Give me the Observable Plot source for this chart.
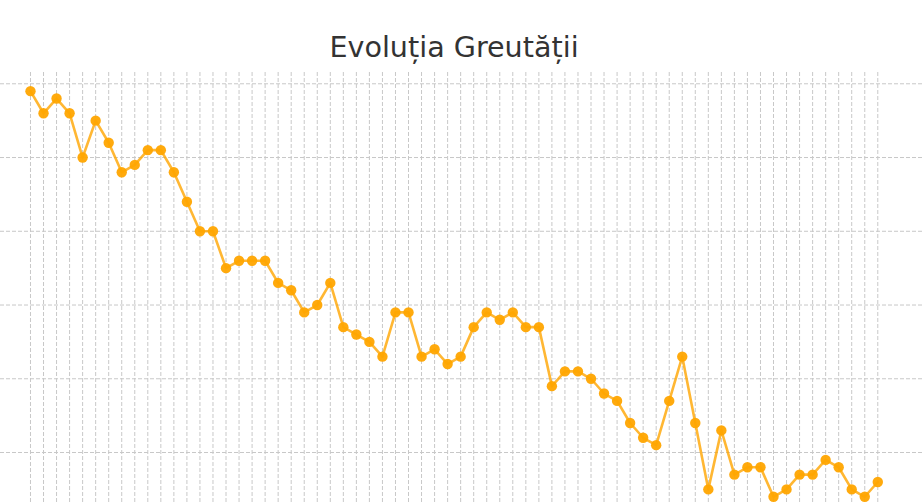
<!DOCTYPE html>
<html>
<head>
<meta charset="utf-8">
<script src="https://cdn.jsdelivr.net/npm/d3@7"></script>
<script src="https://cdn.jsdelivr.net/npm/@observablehq/plot@0.6"></script>
<style>
  html, body { margin: 0; padding: 0; background: #fff; }
  #wrap { position: relative; width: 922px; height: 504px; overflow: hidden; }
  #title { position: absolute; left: 0; top: 0; width: 908px; height: 72px; text-align: center;
           font-family: "DejaVu Sans", sans-serif; font-size: 28.6px; color: #333; line-height: 28px; padding-top: 33px; box-sizing: border-box; }
  #chart { position: absolute; left: 0; top: 72px; }
</style>
</head>
<body>
<div id="wrap">
  <div id="title">Evoluția Greutății</div>
  <div id="chart"></div>
</div>
<script>
const weights = [85.9, 85.6, 85.8, 85.6, 85.0, 85.5, 85.2, 84.8, 84.9, 85.1,
                 85.1, 84.8, 84.4, 84.0, 84.0, 83.5, 83.6, 83.6, 83.6, 83.3,
                 83.2, 82.9, 83.0, 83.3, 82.7, 82.6, 82.5, 82.3, 82.9, 82.9,
                 82.3, 82.4, 82.2, 82.3, 82.7, 82.9, 82.8, 82.9, 82.7, 82.7,
                 81.9, 82.1, 82.1, 82.0, 81.8, 81.7, 81.4, 81.2, 81.1, 81.7,
                 82.3, 81.4, 80.5, 81.3, 80.7, 80.8, 80.8, 80.4, 80.5, 80.7,
                 80.7, 80.9, 80.8, 80.5, 80.4, 80.6];
const days = weights.map((_, i) => i + 1);
const yTicks = [81, 82, 83, 84, 85, 86];

const data = days.map((d, i) => ({day: d, weight: weights[i]}));

const chart = Plot.plot({
  width: 922,
  height: 432,
  marginTop: 0, marginBottom: 0, marginLeft: 0, marginRight: 0,
  x: {domain: [-1.3, 69.43], axis: null},
  y: {domain: [80.295, 86.153], axis: null},
  style: {background: "#fff"},
  marks: [
    Plot.ruleX(days, {x: d => d, stroke: "#c8c8c8", strokeWidth: 1, strokeDasharray: "4,2"}),
    Plot.ruleY(yTicks, {y: d => d, stroke: "#c8c8c8", strokeWidth: 1, strokeDasharray: "4,2"}),
    Plot.line(data, {x: "day", y: "weight", stroke: "#FFA500", strokeOpacity: 0.8, strokeWidth: 2.6}),
    Plot.dot(data, {x: "day", y: "weight", r: 5.2, fill: "#FFA500", fillOpacity: 0.95, stroke: "none"})
  ]
});
document.getElementById("chart").appendChild(chart);
</script>
</body>
</html>
